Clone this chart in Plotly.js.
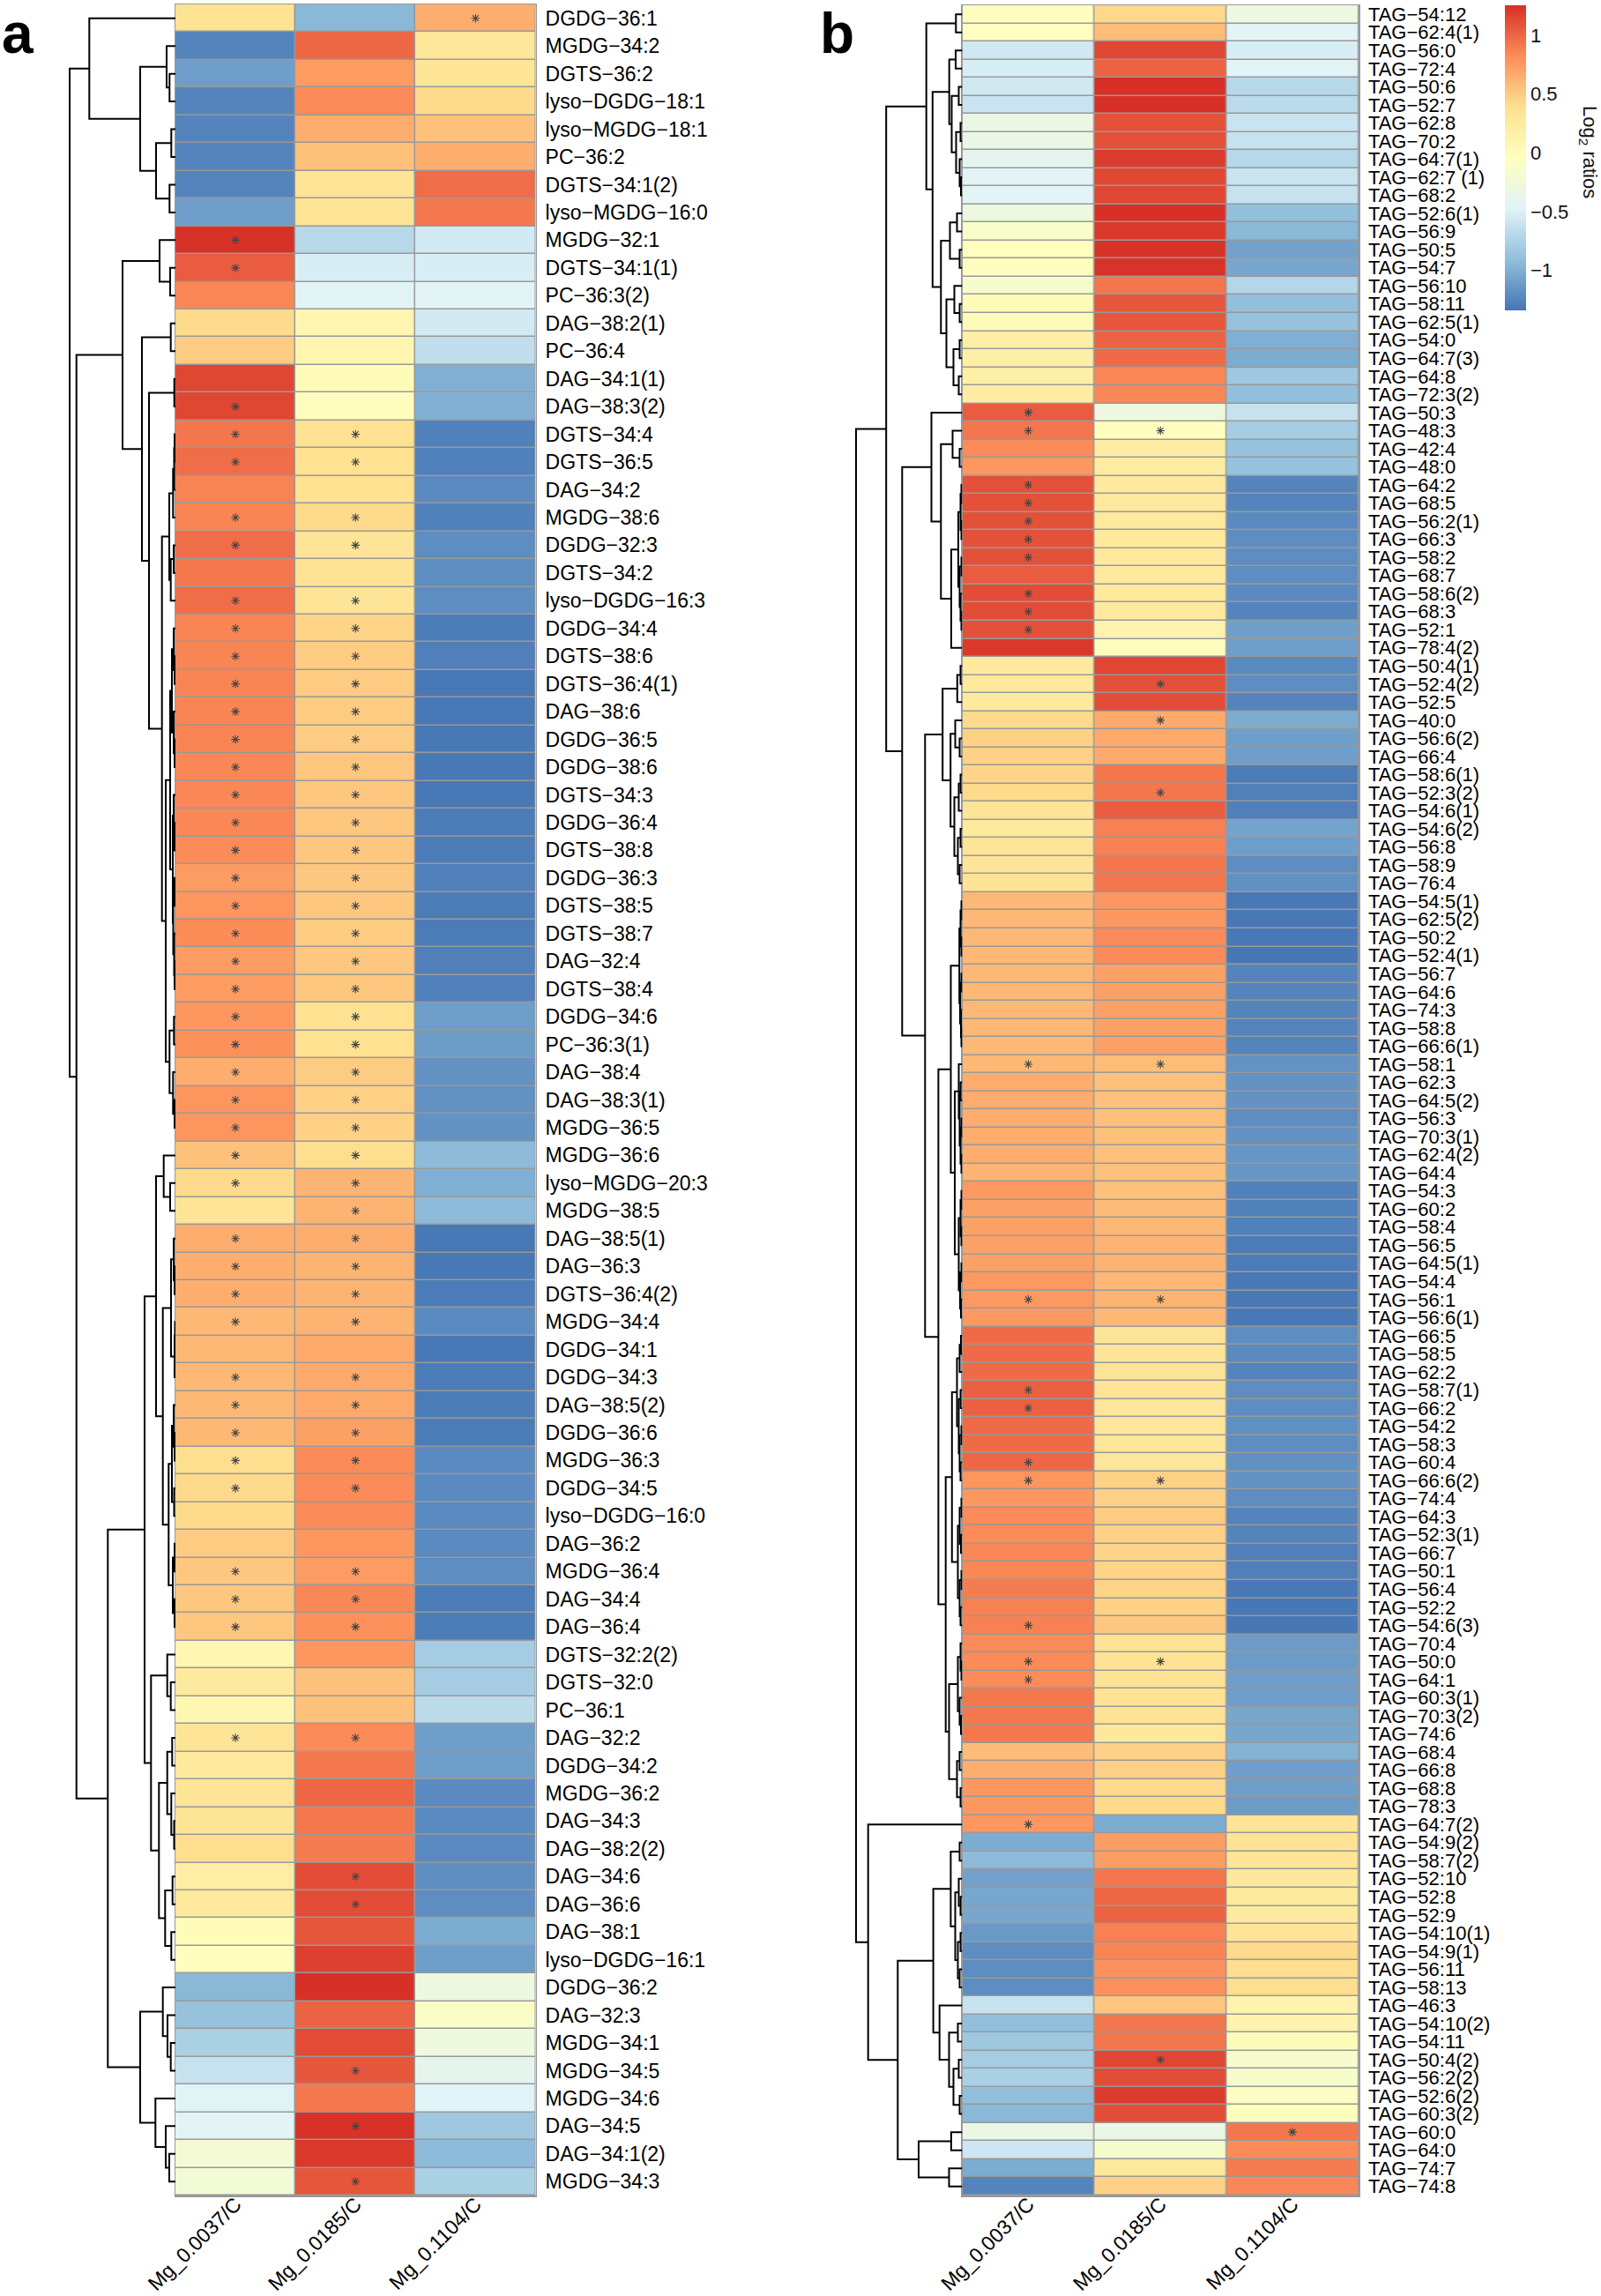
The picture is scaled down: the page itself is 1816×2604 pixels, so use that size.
<!DOCTYPE html>
<html><head><meta charset="utf-8">
<script src="https://cdn.plot.ly/plotly-3.0.1.min.js"></script>
<style>html,body{margin:0;padding:0;background:#fff;} #chart{width:1816px;height:2604px;}</style>
</head><body><div id="chart"></div>
<script>
// ---------------- data ----------------
const columns = ['Mg_0.0037/C', 'Mg_0.0185/C', 'Mg_0.1104/C'];

const lipidsA = ['DGDG-36:1','MGDG-34:2','DGTS-36:2','lyso-DGDG-18:1','lyso-MGDG-18:1','PC-36:2','DGTS-34:1(2)','lyso-MGDG-16:0',
'MGDG-32:1','DGTS-34:1(1)','PC-36:3(2)','DAG-38:2(1)','PC-36:4','DAG-34:1(1)','DAG-38:3(2)','DGTS-34:4','DGTS-36:5','DAG-34:2',
'MGDG-38:6','DGDG-32:3','DGTS-34:2','lyso-DGDG-16:3','DGDG-34:4','DGTS-38:6','DGTS-36:4(1)','DAG-38:6','DGDG-36:5','DGDG-38:6',
'DGTS-34:3','DGDG-36:4','DGTS-38:8','DGDG-36:3','DGTS-38:5','DGTS-38:7','DAG-32:4','DGTS-38:4','DGDG-34:6','PC-36:3(1)','DAG-38:4',
'DAG-38:3(1)','MGDG-36:5','MGDG-36:6','lyso-MGDG-20:3','MGDG-38:5','DAG-38:5(1)','DAG-36:3','DGTS-36:4(2)','MGDG-34:4','DGDG-34:1',
'DGDG-34:3','DAG-38:5(2)','DGDG-36:6','MGDG-36:3','DGDG-34:5','lyso-DGDG-16:0','DAG-36:2','MGDG-36:4','DAG-34:4','DAG-36:4',
'DGTS-32:2(2)','DGTS-32:0','PC-36:1','DAG-32:2','DGDG-34:2','MGDG-36:2','DAG-34:3','DAG-38:2(2)','DAG-34:6','DAG-36:6','DAG-38:1',
'lyso-DGDG-16:1','DGDG-36:2','DAG-32:3','MGDG-34:1','MGDG-34:5','MGDG-34:6','DAG-34:5','DAG-34:1(2)','MGDG-34:3'];

const a1 = [0.35,-1.25,-1.1,-1.25,-1.25,-1.25,-1.25,-1.1,1.25,1.05,0.85,0.42,0.5,1.15,1.15,0.93,0.97,0.87,0.86,0.97,
0.92,0.97,0.86,0.86,0.86,0.86,0.86,0.85,0.85,0.85,0.83,0.75,0.78,0.82,0.75,0.75,0.77,0.8,0.65,0.78,
0.78,0.55,0.42,0.33,0.65,0.65,0.65,0.6,0.6,0.6,0.6,0.6,0.4,0.42,0.42,0.5,0.52,0.52,0.52,0.08,
0.25,0.08,0.33,0.27,0.33,0.33,0.4,0.2,0.27,0.0,-0.03,-0.95,-0.88,-0.77,-0.62,-0.47,-0.45,-0.2,-0.22];
const a2 = [-0.95,1.0,0.75,0.83,0.65,0.55,0.33,0.33,-0.7,-0.52,-0.45,0.1,0.1,0.0,-0.02,0.38,0.38,0.38,0.42,0.33,
0.35,0.33,0.45,0.5,0.5,0.5,0.5,0.52,0.52,0.52,0.52,0.52,0.52,0.5,0.52,0.52,0.38,0.38,0.5,0.47,
0.47,0.4,0.62,0.62,0.65,0.62,0.62,0.62,0.67,0.67,0.67,0.72,0.83,0.83,0.83,0.77,0.75,0.85,0.8,0.77,
0.55,0.55,0.83,0.92,1.0,0.92,0.9,1.12,1.12,1.08,1.18,1.26,1.02,1.13,1.08,0.92,1.25,1.22,1.08];
const a3 = [0.65,0.3,0.32,0.42,0.55,0.65,0.97,0.92,-0.55,-0.52,-0.45,-0.55,-0.65,-1.0,-1.0,-1.27,-1.27,-1.22,-1.27,-1.2,
-1.2,-1.2,-1.3,-1.28,-1.32,-1.32,-1.32,-1.32,-1.32,-1.3,-1.3,-1.28,-1.3,-1.3,-1.28,-1.28,-1.1,-1.12,-1.17,-1.17,
-1.17,-0.93,-1.0,-0.93,-1.32,-1.32,-1.3,-1.22,-1.32,-1.3,-1.3,-1.3,-1.22,-1.22,-1.22,-1.22,-1.2,-1.3,-1.3,-0.8,
-0.8,-0.68,-1.1,-1.1,-1.22,-1.22,-1.22,-1.2,-1.2,-1.02,-1.1,-0.3,-0.1,-0.27,-0.4,-0.47,-0.83,-0.93,-0.77];
// rows (1-based) carrying an asterisk, per column
const sigA1 = [9,10,15,16,17,19,20,22,23,24,25,26,27,28,29,30,31,32,33,34,35,36,37,38,39,40,41,42,43,45,46,47,48,50,51,52,53,54,57,58,59,63];
const sigA2 = [16,17,19,20,22,23,24,25,26,27,28,29,30,31,32,33,34,35,36,37,38,39,40,41,42,43,44,45,46,47,48,50,51,52,53,54,57,58,59,63,68,69,75,77,79];
const sigA3 = [1];

const tagsB = ['TAG-54:12','TAG-62:4(1)','TAG-56:0','TAG-72:4','TAG-50:6','TAG-52:7','TAG-62:8','TAG-70:2','TAG-64:7(1)','TAG-62:7 (1)',
'TAG-68:2','TAG-52:6(1)','TAG-56:9','TAG-50:5','TAG-54:7','TAG-56:10','TAG-58:11','TAG-62:5(1)','TAG-54:0','TAG-64:7(3)',
'TAG-64:8','TAG-72:3(2)','TAG-50:3','TAG-48:3','TAG-42:4','TAG-48:0','TAG-64:2','TAG-68:5','TAG-56:2(1)','TAG-66:3',
'TAG-58:2','TAG-68:7','TAG-58:6(2)','TAG-68:3','TAG-52:1','TAG-78:4(2)','TAG-50:4(1)','TAG-52:4(2)','TAG-52:5','TAG-40:0',
'TAG-56:6(2)','TAG-66:4','TAG-58:6(1)','TAG-52:3(2)','TAG-54:6(1)','TAG-54:6(2)','TAG-56:8','TAG-58:9','TAG-76:4','TAG-54:5(1)',
'TAG-62:5(2)','TAG-50:2','TAG-52:4(1)','TAG-56:7','TAG-64:6','TAG-74:3','TAG-58:8','TAG-66:6(1)','TAG-58:1','TAG-62:3',
'TAG-64:5(2)','TAG-56:3','TAG-70:3(1)','TAG-62:4(2)','TAG-64:4','TAG-54:3','TAG-60:2','TAG-58:4','TAG-56:5','TAG-64:5(1)',
'TAG-54:4','TAG-56:1','TAG-56:6(1)','TAG-66:5','TAG-58:5','TAG-62:2','TAG-58:7(1)','TAG-66:2','TAG-54:2','TAG-58:3',
'TAG-60:4','TAG-66:6(2)','TAG-74:4','TAG-64:3','TAG-52:3(1)','TAG-66:7','TAG-50:1','TAG-56:4','TAG-52:2','TAG-54:6(3)',
'TAG-70:4','TAG-50:0','TAG-64:1','TAG-60:3(1)','TAG-70:3(2)','TAG-74:6','TAG-68:4','TAG-66:8','TAG-68:8','TAG-78:3',
'TAG-64:7(2)','TAG-54:9(2)','TAG-58:7(2)','TAG-52:10','TAG-52:8','TAG-52:9','TAG-54:10(1)','TAG-54:9(1)','TAG-56:11','TAG-58:13',
'TAG-46:3','TAG-54:10(2)','TAG-54:11','TAG-50:4(2)','TAG-56:2(2)','TAG-52:6(2)','TAG-60:3(2)','TAG-60:0','TAG-64:0','TAG-74:7','TAG-74:8'];

const b1 = [-0.03,-0.03,-0.57,-0.52,-0.57,-0.6,-0.33,-0.33,-0.4,-0.45,-0.45,-0.3,-0.12,-0.03,-0.03,-0.15,0.02,0.02,0.18,0.18,
0.18,0.22,1.05,0.93,0.83,0.77,1.1,1.1,1.1,1.1,1.1,1.05,1.12,1.12,1.1,1.22,0.27,0.27,0.27,0.42,
0.47,0.47,0.45,0.42,0.33,0.27,0.33,0.33,0.35,0.6,0.6,0.6,0.6,0.6,0.6,0.6,0.6,0.6,0.6,0.66,
0.66,0.66,0.66,0.66,0.62,0.76,0.72,0.72,0.72,0.72,0.76,0.76,0.76,0.98,0.98,0.98,1.03,1.03,0.98,0.98,
1.0,0.78,0.77,0.83,0.83,0.85,0.85,0.9,0.88,0.88,0.83,0.83,0.83,0.92,0.92,0.92,0.57,0.65,0.77,0.77,
0.77,-1.02,-0.93,-1.08,-1.05,-1.05,-1.13,-1.2,-1.2,-1.2,-0.62,-0.9,-0.83,-0.8,-0.77,-0.9,-0.95,-0.33,-0.58,-1.02,-1.25];
const b2 = [0.43,0.57,1.15,1.02,1.26,1.26,1.1,1.1,1.2,1.15,1.15,1.26,1.22,1.24,1.24,0.93,1.08,1.08,1.02,0.98,
0.85,0.85,-0.28,-0.03,0.22,0.22,0.27,0.27,0.27,0.27,0.27,0.27,0.27,0.27,0.12,-0.02,1.15,1.1,1.12,0.67,
0.67,0.67,0.93,0.93,1.05,0.88,0.88,0.93,0.93,0.77,0.77,0.83,0.83,0.72,0.72,0.72,0.72,0.72,0.57,0.55,
0.55,0.55,0.55,0.55,0.55,0.55,0.57,0.6,0.62,0.62,0.6,0.62,0.6,0.33,0.33,0.33,0.33,0.3,0.3,0.3,
0.3,0.47,0.47,0.5,0.47,0.45,0.45,0.45,0.47,0.52,0.35,0.35,0.35,0.35,0.35,0.28,0.47,0.47,0.42,0.42,
-1.02,0.74,0.74,0.93,1.0,1.02,0.88,0.86,0.8,0.8,0.53,0.93,0.93,1.15,1.12,1.2,1.12,-0.33,-0.15,0.28,0.47];
const b3 = [-0.3,-0.45,-0.52,-0.45,-0.7,-0.68,-0.6,-0.62,-0.7,-0.6,-0.62,-0.9,-0.95,-1.08,-1.05,-0.72,-0.9,-0.88,-1.0,-1.02,
-0.83,-0.9,-0.62,-0.8,-0.88,-0.88,-1.25,-1.25,-1.22,-1.2,-1.2,-1.2,-1.22,-1.25,-1.1,-1.1,-1.22,-1.2,-1.25,-1.02,
-1.1,-1.1,-1.3,-1.28,-1.28,-1.07,-1.1,-1.2,-1.18,-1.32,-1.32,-1.32,-1.33,-1.25,-1.25,-1.25,-1.25,-1.25,-1.17,-1.17,
-1.17,-1.2,-1.17,-1.15,-1.15,-1.27,-1.27,-1.27,-1.3,-1.3,-1.32,-1.32,-1.32,-1.2,-1.22,-1.25,-1.2,-1.2,-1.18,-1.2,
-1.18,-1.17,-1.2,-1.25,-1.25,-1.28,-1.28,-1.32,-1.33,-1.33,-1.12,-1.12,-1.1,-1.1,-1.05,-1.05,-0.98,-1.1,-1.1,-1.12,
0.33,0.35,0.33,0.28,0.25,0.25,0.33,0.42,0.4,0.4,0.12,0.12,0.0,-0.15,-0.15,-0.08,-0.03,0.93,0.83,0.9,0.85];
const sigB1 = [23,24,27,28,29,30,31,33,34,35,59,72,77,78,81,82,90,92,93,101];
const sigB2 = [24,38,40,44,59,72,82,92,114];
const sigB3 = [118];

// row dendrograms: [height, left, right]; leaves are 1-based row numbers
const dendroA = [120,
  [97.7, 1, [40, [10, 2, [6.7, 3, 4]], [22, [4.7, 5, 6], [6.7, 7, 8]]]],
  [112.3,
    [60, [18, 9, [6, 10, 11]],
      [38, [5.3, 12, 13],
        [30, [1.3, 14, 15],
          [15.3, [7, [2.7, [1.5, [1, 16, 17], 18], 19], [5.3, [2, 20, 21], 22]],
            [11, [6, [4, [2, 23, [1, 24, 25]], [2, 26, [1, 27, 28]]],
                     [3, [2, 29, [1, 30, 31]], [2.5, [1, 32, 33], [1.5, 34, [1, 35, 36]]]]],
                 [6.7, [1.7, 37, 38], [2.7, 39, [1, 40, 41]]]]]]]],
    [76.7,
      [35,
        [22, [13.3, 42, [6, 43, 44]],
             [14.3, [5, [2, 45, [1, 46, 47]], [1, [0.5, 48, 49], 50]],
                    [7.7, [4, [2, 51, [1, 52, 53]], [1.5, 54, 55]], [3, [1, 56, 57], [1, 58, 59]]]]],
        [27.7, [9.3, 60, [5.3, 61, 62]],
               [18.7, [9.3, [3.7, 63, 64], [4.7, 65, [1.5, 66, 67]]], [11.7, [3.3, 68, 69], [4.7, 70, 71]]]]],
      [40, [14.3, 72, [9, 73, [5.3, 74, 75]]], [22.7, 76, [11, 77, [7, 78, 79]]]]]]];

const dendroB = [120.5,
  [86.3,
    [40.8, [7.2, 1, 2],
      [33.7, [14.8, [7.5, 3, 4], [12, [4, 5, 6], [7, [2, 7, 8], [3, 9, [1.5, 10, 11]]]]],
             [24.2, [14, [6, 12, 13], [3, 14, 15]], [18, [9, 16, [3, 17, 18]], [10, [3, 19, 20], [4, 21, 22]]]]]],
    [68.2,
      [35, 23, [24.2, [11, 24, [3, 25, 26]],
                      [12.5, [4.5, [2, [1, 27, 28], [1, 29, 30]], [3, [1, 31, 32], [2, 33, [1, 34, 35]]]], 36]]],
      [42.2,
        [22.3, [5.7, [2, 37, 38], 39], [13.3, [8, 40, [3, 41, 42]], [9, [4, [2, 43, 44], 45], [5, [2, 46, 47], [3, 48, 49]]]]],
        [27.1,
          [13, [3.3, [2, [1, 50, 51], [1, 52, 53]], [2.5, [1, 54, 55], [1.5, 56, [1, 57, 58]]]],
               [8.5, [4, 59, [3, [2, 60, 61], [2, [1, 62, 63], [1, 64, 65]]]],
                     [4, [2, [1, 66, 67], [1, 68, 69]], [2.5, [1, 70, 71], [1.5, 72, 73]]]]],
          [18.8,
            [11.7, [6, [3, [1.5, 74, 75], 76], [4, [2, 77, 78], [3, [1, 79, 80], [2, 81, 82]]]],
                   [5, [3, [1, 83, 84], [1.5, 85, 86]], [3, [1, 87, 88], [2, 89, 90]]]],
            [15, [5, [2, 91, [1, 92, 93]], [3, 94, [1.5, 95, 96]]], [6, [3, 97, 98], [2, 99, 100]]]]]]]],
  [106.8, 101,
    [73.2,
      [32.9, [13.1, [3, 102, 103], [8, [4, 104, [2, 105, 106]], [5, [2, 107, 108], [3, 109, 110]]]],
             [25.8, 111, [15, [5, 112, 113], [10, [4, 114, 115], [3, 116, 117]]]]],
      [49.5, [12.6, 118, 119], [15, 120, 121]]]]];

const legendTicks = [-1, -0.5, 0, 0.5, 1];
const zMin = -1.34, zMax = 1.255;

// ---------------- helpers ----------------
const W = 1816, H = 2604;
const px = v => v / W;
const py = v => 1 - v / H;
const minus = s => String(s).replace(/-/g, '\u2212');
const FONT = 'Liberation Sans, Arial, Helvetica, sans-serif';
const colorscale = [[0,'#4575B4'],[1/6,'#91BFDB'],[2/6,'#E0F3F8'],[3/6,'#FFFFBF'],[4/6,'#FEE090'],[5/6,'#FC8D59'],[1,'#D73027']];

function zMatrix(c1, c2, c3){ return c1.map((v, i) => [v, c2[i], c3[i]]); }
function sigPoints(s1, s2, s3){
  const x = [], y = [];
  [s1, s2, s3].forEach((arr, c) => arr.forEach(r => { x.push(c); y.push(r - 1); }));
  return {x, y};
}
function dendroSegments(tree){
  const xs = [], ys = [];
  (function walk(node){
    if (typeof node === 'number') return {h: 0, p: node - 1};
    const h = node[0], L = walk(node[1]), R = walk(node[2]);
    xs.push(L.h, h, h, R.h, null);
    ys.push(L.p, L.p, R.p, R.p, null);
    return {h, p: (L.p + R.p) / 2};
  })(tree);
  return {xs, ys};
}

// ---------------- geometry (pixels) ----------------
const gA = {dx0: 0, hx0: 199, hx1: 607.5, top: 5, bottom: 2490};
const gB = {dx0: 940, hx0: 1091.5, hx1: 1541, top: 6, bottom: 2490};

function heatAxes(g, n, labels, fs, xName, yName){
  const gridStyle = {showgrid: false, zeroline: false, showline: true, mirror: true,
                     linecolor: '#999999', linewidth: 1.5, ticks: '', fixedrange: true};
  return {
    [xName]: Object.assign({}, gridStyle, {
      domain: [px(g.hx0), px(g.hx1)], range: [-0.5, 2.5], anchor: yName.replace('axis',''),
      tickmode: 'array', tickvals: [0, 1, 2], ticktext: columns, tickangle: -45,
      tickfont: {family: FONT, size: 23, color: '#000'}, ticklabelstandoff: -14}),
    [yName]: Object.assign({}, gridStyle, {
      domain: [py(g.bottom), py(g.top)], range: [n - 0.5, -0.5], anchor: xName.replace('axis',''),
      side: 'right', tickmode: 'array', tickvals: labels.map((_, i) => i), ticktext: labels.map(minus),
      tickfont: {family: FONT, size: fs, color: '#000'}, ticklabelstandoff: 5})
  };
}
function dendAxes(g, n, xName, yName){
  return {
    [xName]: {domain: [px(g.dx0), px(g.hx0)], range: [g.hx0 - g.dx0, 0], anchor: yName.replace('axis',''), visible: false, fixedrange: true},
    [yName]: {domain: [py(g.bottom), py(g.top)], range: [n - 0.5, -0.5], anchor: xName.replace('axis',''), visible: false, fixedrange: true}
  };
}

const nA = lipidsA.length, nB = tagsB.length;
const sA = sigPoints(sigA1, sigA2, sigA3), sB = sigPoints(sigB1, sigB2, sigB3);
const dA = dendroSegments(dendroA), dB = dendroSegments(dendroB);

const star = {type: 'scatter', mode: 'markers', hoverinfo: 'skip',
  marker: {symbol: 'asterisk-open', size: 8, color: '#454545', line: {color: '#454545', width: 1.1}}};
const dline = {type: 'scatter', mode: 'lines', hoverinfo: 'skip', line: {color: '#000', width: 2}};

const traces = [
  {type: 'heatmap', x: [0,1,2], y: lipidsA.map((_, i) => i), z: zMatrix(a1, a2, a3),
   zmin: zMin, zmax: zMax, colorscale, showscale: false, xgap: 1.5, ygap: 1.5, xaxis: 'x', yaxis: 'y', hoverinfo: 'skip'},
  Object.assign({}, star, {x: sA.x, y: sA.y, xaxis: 'x', yaxis: 'y'}),
  Object.assign({}, dline, {x: dA.xs, y: dA.ys, xaxis: 'x3', yaxis: 'y3'}),
  {type: 'heatmap', x: [0,1,2], y: tagsB.map((_, i) => i), z: zMatrix(b1, b2, b3),
   zmin: zMin, zmax: zMax, colorscale, xgap: 1.5, ygap: 1.5, xaxis: 'x2', yaxis: 'y2', hoverinfo: 'skip',
   showscale: true,
   colorbar: {x: px(1707), xanchor: 'left', y: py(6), yanchor: 'top', len: 346, lenmode: 'pixels',
              thickness: 24, thicknessmode: 'pixels', xpad: 0, ypad: 0, outlinewidth: 0,
              tickmode: 'array', tickvals: legendTicks, ticktext: legendTicks.map(minus), ticks: '',
              tickfont: {family: FONT, size: 22, color: '#111'}}},
  Object.assign({}, star, {x: sB.x, y: sB.y, xaxis: 'x2', yaxis: 'y2'}),
  Object.assign({}, dline, {x: dB.xs, y: dB.ys, xaxis: 'x4', yaxis: 'y4'})
];

const layout = Object.assign({
  width: W, height: H, margin: {l: 0, r: 0, t: 0, b: 0, pad: 0},
  paper_bgcolor: '#fff', plot_bgcolor: 'rgba(0,0,0,0)', showlegend: false,
  font: {family: FONT, color: '#000'},
  shapes: [
    {type: 'rect', xref: 'x domain', yref: 'y domain', x0: 0, x1: 1, y0: 0, y1: 1, fillcolor: '#999999', line: {width: 0}, layer: 'below'},
    {type: 'rect', xref: 'x2 domain', yref: 'y2 domain', x0: 0, x1: 1, y0: 0, y1: 1, fillcolor: '#999999', line: {width: 0}, layer: 'below'}
  ],
  annotations: [
    {text: '<b>a</b>', xref: 'paper', yref: 'paper', x: px(0), y: 1, xanchor: 'left', yanchor: 'top', showarrow: false,
     font: {family: FONT, size: 64, color: '#000'}},
    {text: '<b>b</b>', xref: 'paper', yref: 'paper', x: px(928), y: 1, xanchor: 'left', yanchor: 'top', showarrow: false,
     font: {family: FONT, size: 64, color: '#000'}},
    {text: 'Log<sub>2</sub> ratios', xref: 'paper', yref: 'paper', x: px(1802), y: py(172), xanchor: 'center', yanchor: 'middle',
     textangle: 90, showarrow: false, font: {family: FONT, size: 22, color: '#111'}}
  ]
},
  heatAxes(gA, nA, lipidsA, 23, 'xaxis', 'yaxis'),
  heatAxes(gB, nB, tagsB, 22, 'xaxis2', 'yaxis2'),
  dendAxes(gA, nA, 'xaxis3', 'yaxis3'),
  dendAxes(gB, nB, 'xaxis4', 'yaxis4')
);

Plotly.newPlot('chart', traces, layout, {staticPlot: true, displayModeBar: false});
</script></body></html>
